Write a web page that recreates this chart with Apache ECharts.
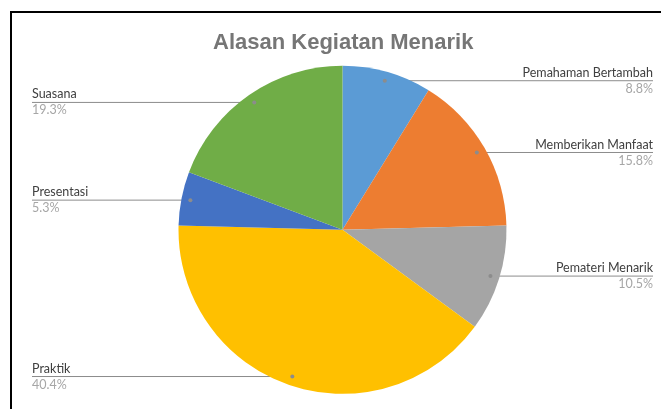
<!DOCTYPE html>
<html lang="id" style="height: 100%">
<head>
    <meta charset="utf-8">
    <title>Alasan Kegiatan Menarik</title>
    <style>
        body { margin: 0; background: #fff; }
        #container { position: absolute; left: 0; top: 0; width: 661px; height: 409px; }
        #frame {
            position: absolute; left: 10px; top: 11px; width: 800px; height: 600px;
            border-left: 2px solid #000; border-top: 2px solid #000; pointer-events: none;
        }
    </style>
</head>
<body>
<div id="container"></div>
<div id="frame"></div>

<script src="https://cdn.jsdelivr.net/npm/echarts@6/dist/echarts.min.js"></script>
<script type="text/javascript">
    // data, clockwise from 12 o'clock
    var categories = ['Pemahaman Bertambah', 'Memberikan Manfaat', 'Pemateri Menarik', 'Praktik', 'Presentasi', 'Suasana'];
    var percents = [8.8, 15.8, 10.5, 40.4, 5.3, 19.3];
    var colors = ['#5B9BD5', '#ED7D31', '#A5A5A5', '#FFC000', '#4472C4', '#70AD47'];

    var dom = document.getElementById('container');
    var myChart = echarts.init(dom, null, { renderer: 'canvas' });

    var PIE_LEFT = 24;
    var RADIUS = 164;
    var DOT_R = 155; // leader lines start a bit inside the slice
    var dots = {};

    function pieCenter() {
        var w = myChart.getWidth(), h = myChart.getHeight();
        return [PIE_LEFT + (w - PIE_LEFT) * 0.5, h * 0.562];
    }

    var option = {
        animation: false,
        title: {
            text: 'Alasan Kegiatan Menarik',
            left: 208,
            top: 27,
            textStyle: {
                fontFamily: 'Liberation Sans',
                fontSize: 22,
                fontWeight: 'bold',
                color: '#767676'
            }
        },
        series: [
            {
                type: 'pie',
                left: PIE_LEFT,
                right: 0,
                top: 0,
                bottom: 0,
                center: ['50%', '56.2%'],
                radius: RADIUS,
                startAngle: 90,
                clockwise: true,
                silent: true,
                data: categories.map(function (name, i) {
                    return { name: name, value: percents[i], itemStyle: { color: colors[i] } };
                }),
                label: {
                    position: 'outside',
                    alignTo: 'edge',
                    edgeDistance: 8,
                    formatter: function (p) {
                        return '{n|' + p.name + '}\n{p|' + p.value.toFixed(1) + '%}';
                    },
                    rich: {
                        n: { fontFamily: 'Lato', fontSize: 12.5, color: '#404040', lineHeight: 16 },
                        p: { fontFamily: 'Lato', fontSize: 12.5, color: '#A6A6A6', lineHeight: 16 }
                    }
                },
                labelLine: {
                    show: true,
                    length: -9,
                    length2: 0,
                    lineStyle: { color: '#8C8C8C', width: 1 }
                },
                // run the leader line straight from a point inside the slice to under the text
                labelLayout: function (p) {
                    var c = pieCenter();
                    var rect = p.labelRect;
                    var isLeft = rect.x + rect.width / 2 < c[0];
                    var y = rect.y + rect.height / 2;
                    var dy = y - c[1];
                    var dx = Math.sqrt(Math.max(DOT_R * DOT_R - dy * dy, 0));
                    var x0 = isLeft ? c[0] - dx : c[0] + dx;
                    var x1 = isLeft ? rect.x : rect.x + rect.width;
                    dots[p.dataIndex] = [x0, y];
                    return { labelLinePoints: [[x0, y], [x0, y], [x1, y]] };
                }
            },
            {
                // transparent copy that only carries the leader line dots
                type: 'pie',
                left: PIE_LEFT,
                right: 0,
                top: 0,
                bottom: 0,
                center: ['50%', '56.2%'],
                radius: RADIUS,
                silent: true,
                data: categories.map(function (name, i) {
                    return { name: name, value: percents[i] };
                }),
                itemStyle: { color: 'rgba(0,0,0,0)' },
                label: {
                    position: 'inside',
                    formatter: ' ',
                    fontSize: 4,
                    lineHeight: 4,
                    width: 4,
                    height: 4,
                    borderRadius: 2,
                    backgroundColor: '#8C8C8C'
                },
                labelLine: { show: false },
                labelLayout: function (p) {
                    var d = dots[p.dataIndex];
                    if (!d) return {};
                    return { x: d[0], y: d[1], align: 'center', verticalAlign: 'middle' };
                }
            }
        ]
    };

    myChart.setOption(option);
    window.addEventListener('resize', myChart.resize);
</script>
</body>
</html>
